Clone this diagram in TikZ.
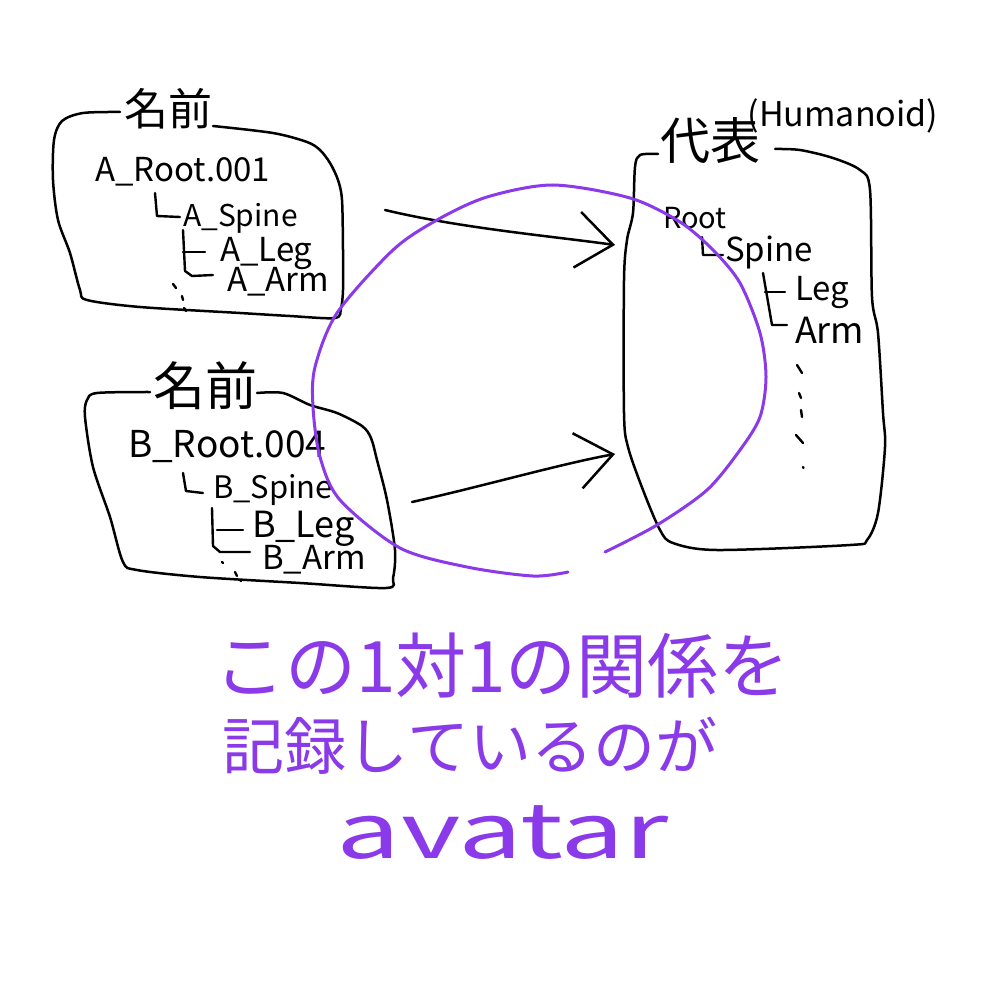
\documentclass[tikz,border=0pt]{standalone}
\usepackage{fontspec}
\setmainfont{Noto Sans CJK JP}
\usetikzlibrary{arrows.meta}
\definecolor{inkpurple}{RGB}{138,58,232}
\newcommand\myfs[1]{\fontsize{#1}{#1}\selectfont}
\begin{document}
\begin{tikzpicture}[x=0.5pt,y=-0.5pt,
  border/.style={line width=1.25pt, line cap=round, line join=round},
  treeline/.style={line width=1.2pt, line cap=round, line join=round},
  dotmark/.style={line width=1.2pt, line cap=round},
  lbl/.style={anchor=base west, inner sep=0pt, outer sep=0pt},
  title/.style={inner sep=0pt},
  arr/.style={line width=1.25pt, line cap=round, -{Straight Barb[length=18pt,width=28pt,line width=1.25pt]}},
  loopline/.style={inkpurple, line width=1.5pt, line cap=round},
  ptext/.style={inkpurple, inner sep=0pt},
]
\useasboundingbox[fill=white] (0,0) rectangle (1000,1000);

% ---------- Box A ----------
\draw[border] plot[smooth] coordinates {(213,126) (273,133) (307,142) (320,150) (330,163) (338,180) (342,200) (343,250) (343,290) (341,308) (335,318) (290,316) (240,313) (140,307) (87,300) (80,290) (70,253) (58,220) (53,180) (54,140) (62,121) (83,113) (120,112)};
\node[title] (nameA) at (168,109) {\myfs{22}名前};
\node[lbl] (arootA) at (95,182) {\myfs{16.5}A\_Root.001};
\node[lbl] (aspine) at (183,227) {\myfs{15}A\_Spine};
\node[lbl] (aleg) at (220,261) {\myfs{16.5}A\_Leg};
\node[lbl] (aarm) at (227,291) {\myfs{16.5}A\_Arm};
\draw[treeline] (155,193) -- (157,216) -- (180,217);
\draw[treeline] (183,230) -- (185,271) -- (192,276) -- (213,275);
\draw[treeline] (183,252) -- (205,252);
\draw[dotmark] (173,284) -- (176,288);
\draw[dotmark] (182,296) -- (183,300);
\draw[dotmark] (184,308) -- (186,311);

% ---------- Box B ----------
\draw[border] plot[smooth] coordinates {(257,393) (283,393) (310,405) (337,413) (362,426) (371,438) (377,460) (387,500) (395,550) (393,578) (386,588) (300,583) (200,577) (137,570) (123,562) (110,517) (93,467) (85,417) (87,400) (97,393) (150,392)};
\node[title] (nameB) at (205,386) {\myfs{26}名前};
\node[lbl] (brootB) at (128,457) {\myfs{18.5}B\_Root.004};
\node[lbl] (bspine) at (213,498) {\myfs{15.5}B\_Spine};
\node[lbl] (bleg) at (252,537) {\myfs{18}B\_Leg};
\node[lbl] (barm) at (262,569) {\myfs{16.5}B\_Arm};
\draw[treeline] (183,473) -- (186,491) -- (203,493);
\draw[treeline] (212,508) -- (213,546) -- (220,552) -- (250,552);
\draw[treeline] (217,530) -- (243,530);
\draw[dotmark] (222,562) -- (223,563);
\draw[dotmark] (235,572) -- (237,576);
\draw[dotmark] (240,580) -- (241,581);

% ---------- Humanoid box ----------
\draw[border] plot[smooth] coordinates {(658,154) (640,155) (635,167) (633,213) (627,240) (624,280) (624,413) (628,447) (643,490) (660,530) (673,543) (717,550) (850,545) (867,540) (878,513) (885,447) (883,413) (878,333) (872,297) (870,190) (860,170) (833,158) (800,150) (775,149)};
\node[title] (rep) at (710,141) {\myfs{25}代表};
\node[title] (humanoid) at (843,116) {\myfs{17}(Humanoid)};
\node[lbl] (hroot) at (663,228) {\myfs{14.5}Root};
\node[lbl] (hspine) at (725,262) {\myfs{16.5}Spine};
\node[lbl] (hleg) at (795,300) {\myfs{16.5}Leg};
\node[lbl] (harm) at (795,343) {\myfs{18}Arm};
\draw[treeline] (702,237) -- (703,255) -- (723,255);
\draw[treeline] (763,273) -- (772,325) -- (787,325);
\draw[treeline] (765,292) -- (785,292);
\draw[dotmark] (797,365) -- (802,373);
\draw[dotmark] (799,393) -- (801,398);
\draw[dotmark] (801,410) -- (802,417);
\draw[dotmark] (796,435) -- (803,443);
\draw[dotmark] (803,467) -- (803.5,468);

% ---------- arrows ----------
\coordinate (a1s) at (385,210);
\coordinate (a1e) at (615,245);
\coordinate (a2s) at (412,502);
\coordinate (a2e) at (615,454);
\draw[arr] (a1s) .. controls (460,228) and (550,236) .. (a1e);
\draw[arr] (a2s) .. controls (480,487) and (560,464) .. (a2e);

% ---------- purple loop ----------
\draw[loopline] plot[smooth] coordinates {(568,572) (533,576) (467,567) (400,548) (340,500) (320,457) (313,407) (315,367) (337,313) (393,250) (437,220) (487,197) (553,185) (630,198) (680,222) (713,250) (740,283) (760,333) (766,377) (760,417) (740,450) (707,490) (657,525) (605,552)};

% ---------- purple text ----------
\node[ptext] (line1) at (502,666) {\myfs{35.5}この1対1の関係を};
\node[ptext] (line2) at (470,746) {\myfs{31}記録しているのが};
\node[ptext, anchor=base] (avatar) at (503,858) {\scalebox{1.5}[1]{\myfs{38}avatar}};
\end{tikzpicture}
\end{document}
